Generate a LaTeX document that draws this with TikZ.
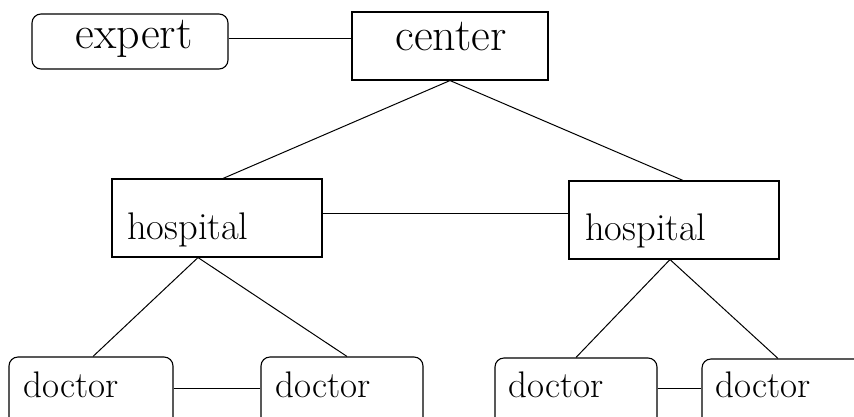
\documentclass[tikz,border=0pt]{standalone}
\usepackage{fontspec}
\usetikzlibrary{calc}
\tikzset{
  box/.style={draw, line width=1.1pt, inner sep=0pt},
  rbox/.style={box, rounded corners=9pt},
  conn/.style={line width=1pt},
  big/.style={font=\fontsize{46}{52}\selectfont, inner sep=0pt, anchor=base},
  mid/.style={font=\fontsize{38.5}{44}\selectfont, inner sep=0pt, anchor=base west},
  small/.style={font=\fontsize{37}{42}\selectfont, inner sep=0pt, anchor=base west},
}
\begin{document}
\begin{tikzpicture}[x=1pt,y=-1pt]
\clip (0,0) rectangle (854,416);
\fill[white] (0,0) rectangle (854,416);
% boxes
\node[rbox, minimum width=196pt, minimum height=55pt] (e) at (130,41.5) {};
\node[box, minimum width=196pt, minimum height=68pt] (c) at (450,46) {};
\node[box, minimum width=210pt, minimum height=78pt] (h1) at (217,218) {};
\node[box, minimum width=210pt, minimum height=78pt] (h2) at (674,220) {};
\node[rbox, minimum width=164pt, minimum height=80pt] (d1) at (91,397) {};
\node[rbox, minimum width=162pt, minimum height=80pt] (d2) at (342,397) {};
\node[rbox, minimum width=162pt, minimum height=80pt] (d3) at (576,398) {};
\node[rbox, minimum width=162pt, minimum height=80pt] (d4) at (783,399) {};
% texts
\node[big] (te) at (134,48) {expert};
\node[big] (tc) at (451,50) {center};
\node[mid] (th1) at (127,239) {hospital};
\node[mid] (th2) at (585,240) {hospital};
\node[small] (td1) at (23,397) {doctor};
\node[small] (td2) at (275,397) {doctor};
\node[small] (td3) at (508,397) {doctor};
\node[small] (td4) at (715,397) {doctor};
% connectors
\draw[conn] (e.east |- 0,38) -- (c.west |- 0,38);
\draw[conn] (h1.north -| 223,0) -- (c.south) -- (h2.north -| 683,0);
\draw[conn] (h1.east |- 0,213) -- (h2.west |- 0,213);
\draw[conn] (d1.north -| 93,0) -- (h1.south -| 198,0) -- (d2.north -| 347,0);
\draw[conn] (d3.north -| 576,0) -- (h2.south -| 670,0) -- (d4.north -| 778,0);
\draw[conn] (d1.east |- 0,388) -- (d2.west |- 0,388);
\draw[conn] (d3.east |- 0,388) -- (d4.west |- 0,388);
\end{tikzpicture}
\end{document}
